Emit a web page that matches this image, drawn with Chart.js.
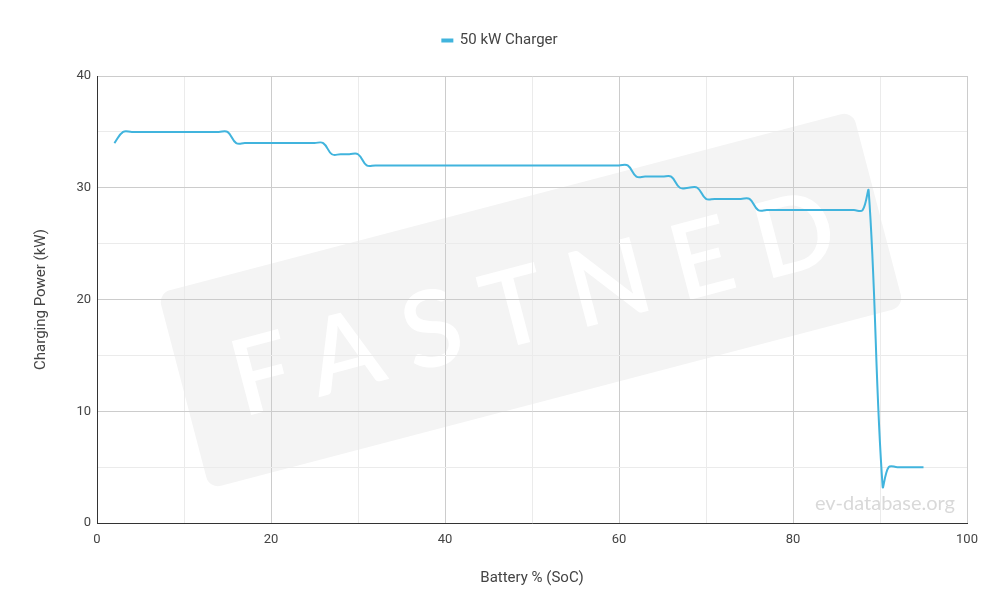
<!DOCTYPE html>
<html>
<head>
<meta charset="utf-8">
<script src="https://cdn.jsdelivr.net/npm/chart.js@4.4.0/dist/chart.umd.min.js"></script>
<style>
  html, body { margin: 0; padding: 0; background: #fff; }
  #wrap { width: 1000px; height: 613px; }
</style>
</head>
<body>
<div id="wrap"><canvas id="chart"></canvas></div>
<script>
// charging curve
var soc = [2, 3, 4, 5, 6, 7, 8, 9, 10, 11, 12, 13, 14, 15,
  16, 17, 18, 19, 20, 21, 22, 23, 24, 25, 26,
  27, 28, 29, 30,
  31, 32, 33, 34, 35, 36, 37, 38, 39, 40, 41, 42, 43, 44, 45, 46, 47, 48, 49, 50,
  51, 52, 53, 54, 55, 56, 57, 58, 59, 60, 61,
  62, 63, 64, 65, 66,
  67, 68, 69,
  70, 71, 72, 73, 74, 75,
  76, 77, 78, 79, 80, 81, 82, 83, 84, 85, 86, 87, 88,
  88.7, 90.3,
  91, 92, 93, 94, 95];
var power = [34, 35, 35, 35, 35, 35, 35, 35, 35, 35, 35, 35, 35, 35,
  34, 34, 34, 34, 34, 34, 34, 34, 34, 34, 34,
  33, 33, 33, 33,
  32, 32, 32, 32, 32, 32, 32, 32, 32, 32, 32, 32, 32, 32, 32, 32, 32, 32, 32, 32,
  32, 32, 32, 32, 32, 32, 32, 32, 32, 32, 32,
  31, 31, 31, 31, 31,
  30, 30, 30,
  29, 29, 29, 29, 29, 29,
  28, 28, 28, 28, 28, 28, 28, 28, 28, 28, 28, 28, 28,
  29.7, 3.3,
  5, 5, 5, 5, 5];

var xTicks = [0, 20, 40, 60, 80, 100];
var yTicks = [0, 10, 20, 30, 40];

var lineColor = '#41b4dd';
var textColor = '#444';

var points = [];
for (var i = 0; i < soc.length; i++) {
  points.push({ x: soc[i], y: power[i] });
}

// fastned stamp + site name behind the grid
var watermark = {
  id: 'watermark',
  beforeDraw: function (chart) {
    var ctx = chart.ctx;
    ctx.save();
    ctx.translate(531, 300);
    ctx.rotate(-14.7 * Math.PI / 180);
    ctx.fillStyle = '#f4f4f4';
    ctx.beginPath();
    ctx.roundRect(-359, -101, 718, 202, 12);
    ctx.fill();
    ctx.fillStyle = '#fff';
    ctx.font = '600 106px Lato';
    ctx.textAlign = 'center';
    ctx.textBaseline = 'middle';
    ctx.letterSpacing = '25px';
    ctx.fillText('FASTNED', 14, 6);
    ctx.restore();

    ctx.save();
    ctx.fillStyle = '#d9d9d9';
    ctx.font = '20px Lato';
    ctx.textAlign = 'right';
    ctx.textBaseline = 'alphabetic';
    ctx.fillText('ev-database.org', 955, 510);
    ctx.restore();
  }
};

// more room under the legend, and center it on the whole canvas
var legendFix = {
  id: 'legendFix',
  beforeLayout: function (chart) {
    var legend = chart.legend;
    if (legend && !legend._patched) {
      var fit = legend.fit;
      legend.fit = function () {
        fit.call(this);
        this.height += 18;
      };
      legend._patched = true;
    }
  },
  afterLayout: function (chart) {
    chart.legend.left = 0;
    chart.legend.right = chart.width;
    chart.legend.width = chart.width;
  }
};

Chart.defaults.font.family = 'Roboto';
Chart.defaults.color = textColor;

var ctx = document.getElementById('chart').getContext('2d');
var myChart = new Chart(ctx, {
  type: 'line',
  data: {
    datasets: [{
      label: '50 kW Charger',
      data: points,
      borderColor: lineColor,
      backgroundColor: lineColor,
      borderWidth: 2,
      pointRadius: 0,
      tension: 0.4,
      fill: false
    }]
  },
  options: {
    responsive: true,
    maintainAspectRatio: false,
    animation: false,
    layout: { padding: { top: 21, right: 33, bottom: 0, left: 0 } },
    plugins: {
      legend: {
        position: 'top',
        labels: {
          boxWidth: 10,
          boxHeight: 2,
          padding: 12,
          font: { size: 15 },
          color: textColor
        }
      },
      tooltip: { enabled: false }
    },
    scales: {
      x: {
        type: 'linear',
        min: 0,
        max: 100,
        afterFit: function (scale) { scale.height = 90; },
        border: { color: '#333', width: 1 },
        grid: {
          drawTicks: false,
          color: function (c) { return xTicks.indexOf(c.tick.value) >= 0 ? '#cccccc' : '#ebebeb'; }
        },
        ticks: {
          stepSize: 10,
          autoSkip: false,
          maxRotation: 0,
          padding: 9,
          font: { size: 13 },
          callback: function (v) { return xTicks.indexOf(v) >= 0 ? v : ''; }
        },
        title: {
          display: true,
          text: 'Battery % (SoC)',
          font: { size: 15 },
          padding: { top: 0, bottom: 26 }
        }
      },
      y: {
        min: 0,
        max: 40,
        afterFit: function (scale) { scale.width = 97; },
        border: { color: '#333', width: 1 },
        grid: {
          drawTicks: false,
          color: function (c) { return yTicks.indexOf(c.tick.value) >= 0 ? '#cccccc' : '#ebebeb'; }
        },
        ticks: {
          stepSize: 5,
          autoSkip: false,
          padding: 6,
          font: { size: 13 },
          callback: function (v) { return yTicks.indexOf(v) >= 0 ? v : ''; }
        },
        title: {
          display: true,
          text: 'Charging Power (kW)',
          font: { size: 15 },
          padding: { top: 32, bottom: 0 }
        }
      }
    }
  },
  plugins: [watermark, legendFix]
});
</script>
</body>
</html>
